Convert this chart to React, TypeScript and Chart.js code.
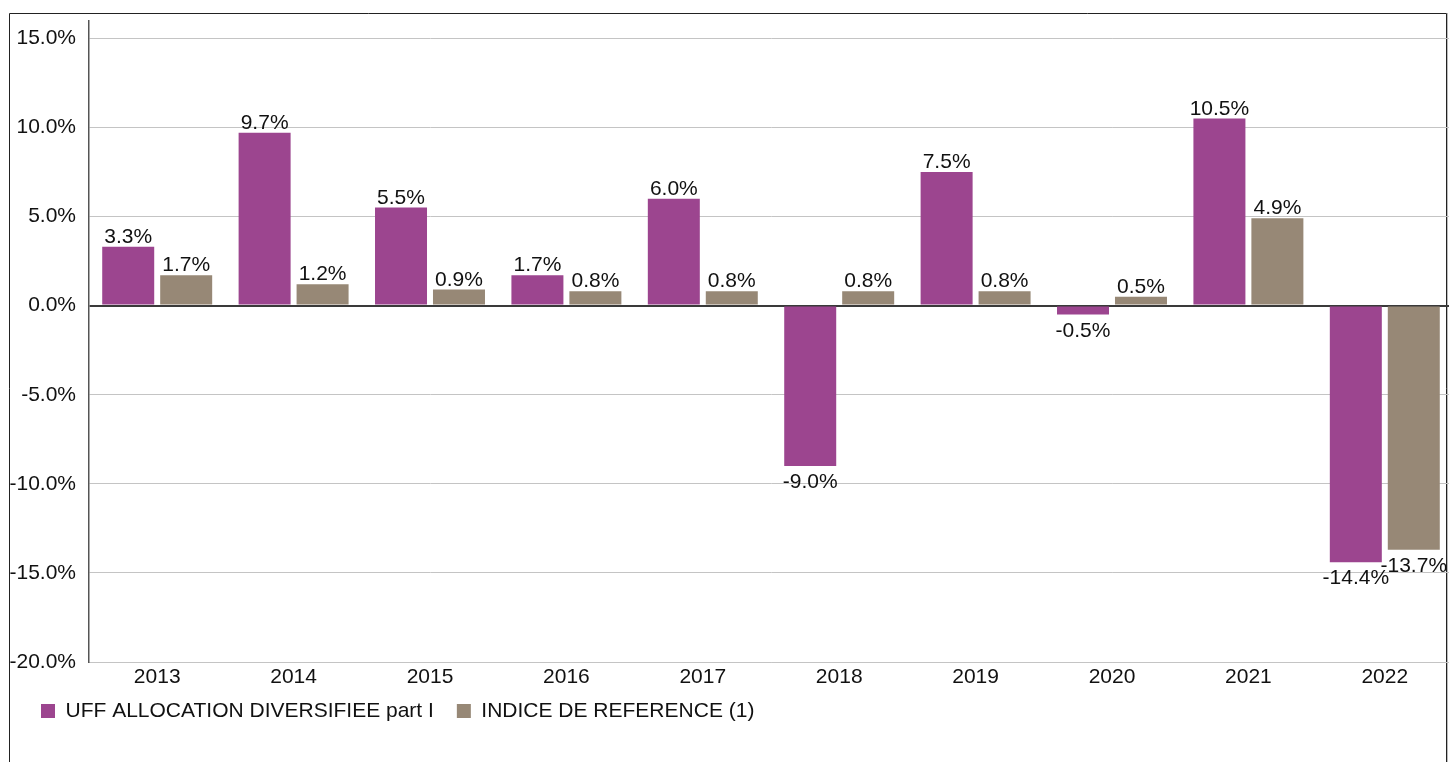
import { useEffect, useRef } from 'react';
import { Chart, registerables } from 'chart.js';

Chart.register(...registerables);

const categories = ['2013', '2014', '2015', '2016', '2017', '2018', '2019', '2020', '2021', '2022'];
const fundValues = [3.3, 9.7, 5.5, 1.7, 6.0, -9.0, 7.5, -0.5, 10.5, -14.4];
const indexValues = [1.7, 1.2, 0.9, 0.8, 0.8, 0.8, 0.8, 0.5, 4.9, -13.7];
const seriesNames = ['UFF ALLOCATION DIVERSIFIEE part I', 'INDICE DE REFERENCE (1)'];
const yTicks = [-20, -15, -10, -5, 0, 5, 10, 15];

const FONT = "'Liberation Sans', Arial, sans-serif";

const framePlugin = {
  id: 'frame',
  beforeDraw(chart: any) {
    const ctx = chart.ctx;
    ctx.save();
    ctx.strokeStyle = '#222';
    ctx.lineWidth = 1;
    ctx.beginPath();
    ctx.moveTo(9.5, 800);
    ctx.lineTo(9.5, 13.5);
    ctx.lineTo(1446.5, 13.5);
    ctx.lineTo(1446.5, 800);
    ctx.stroke();
    ctx.strokeStyle = '#bbb';
    ctx.beginPath();
    ctx.moveTo(1447.5, 13);
    ctx.lineTo(1447.5, 800);
    ctx.stroke();
    ctx.restore();
  },
};

const areaPlugin = {
  id: 'labelArea',
  afterLayout(chart: any) {
    const y = chart.scales.y;
    y.left = 0;
    const x = chart.scales.x;
    x.bottom = x.top + 40;
  },
};

const labelPlugin = {
  id: 'valueLabels',
  afterDatasetsDraw(chart: any) {
    const ctx = chart.ctx;
    ctx.save();
    ctx.font = `21px ${FONT}`;
    ctx.fillStyle = '#111';
    ctx.textAlign = 'center';
    ctx.textBaseline = 'alphabetic';
    chart.data.datasets.forEach((ds: any, di: number) => {
      const meta = chart.getDatasetMeta(di);
      meta.data.forEach((bar: any, i: number) => {
        const v = ds.data[i] as number;
        const txt = v.toFixed(1) + '%';
        const y = v >= 0 ? bar.y - 4 : bar.y + 22;
        ctx.fillText(txt, bar.x, y);
      });
    });
    ctx.restore();
  },
};

export default function App() {
  const ref = useRef<HTMLCanvasElement | null>(null);

  useEffect(() => {
    if (!ref.current) return;
    const chart = new Chart(ref.current, {
      type: 'bar',
      data: {
        labels: categories,
        datasets: [
          {
            label: seriesNames[0],
            data: fundValues,
            backgroundColor: '#9c458f',
            categoryPercentage: 0.85,
            barPercentage: 0.897,
          },
          {
            label: seriesNames[1],
            data: indexValues,
            backgroundColor: '#978876',
            categoryPercentage: 0.85,
            barPercentage: 0.897,
          },
        ],
      },
      options: {
        animation: false,
        responsive: false,
        devicePixelRatio: 1,
        layout: { padding: { left: 18, right: 7, top: 20.5, bottom: 30.5 } },
        plugins: {
          tooltip: { enabled: false },
          legend: {
            position: 'bottom',
            align: 'start',
            labels: {
              boxWidth: 14,
              boxHeight: 14,
              padding: 23,
              color: '#111',
              font: { family: FONT, size: 21 },
            },
          },
        },
        scales: {
          x: {
            grid: { display: false, drawTicks: false },
            border: { display: true, color: '#c4c4c4', width: 1 },
            ticks: { color: '#111', padding: 3, font: { family: FONT, size: 21 } },
            afterFit: (s: any) => {
              s.height = 15.5;
              s.paddingLeft = 0;
              s.paddingRight = 0;
            },
          },
          y: {
            min: -20,
            max: 16,
            grid: {
              drawTicks: false,
              color: (c: any) => (c.tick && c.tick.value === 0 ? '#3a3a3a' : '#c4c4c4'),
              lineWidth: (c: any) => (c.tick && c.tick.value === 0 ? 2 : 1),
            },
            border: { display: true, color: '#555', width: 1.5 },
            ticks: {
              includeBounds: false,
              padding: 13,
              color: '#111',
              font: { family: FONT, size: 21 },
              callback: (v: any) => Number(v).toFixed(1) + '%',
            },
            afterBuildTicks: (s: any) => {
              s.ticks = yTicks.map((v) => ({ value: v }));
            },
            afterFit: (s: any) => {
              s.width = 71;
              s.paddingTop = 0;
              s.paddingBottom = 0;
            },
          },
        },
      },
      plugins: [framePlugin, areaPlugin, labelPlugin],
    });
    return () => chart.destroy();
  }, []);

  return (
    <div style={{ position: 'fixed', left: 0, top: 0, width: 1449, height: 762, overflow: 'hidden', background: '#fff' }}>
      <canvas ref={ref} width={1460} height={762} style={{ display: 'block' }} />
    </div>
  );
}
